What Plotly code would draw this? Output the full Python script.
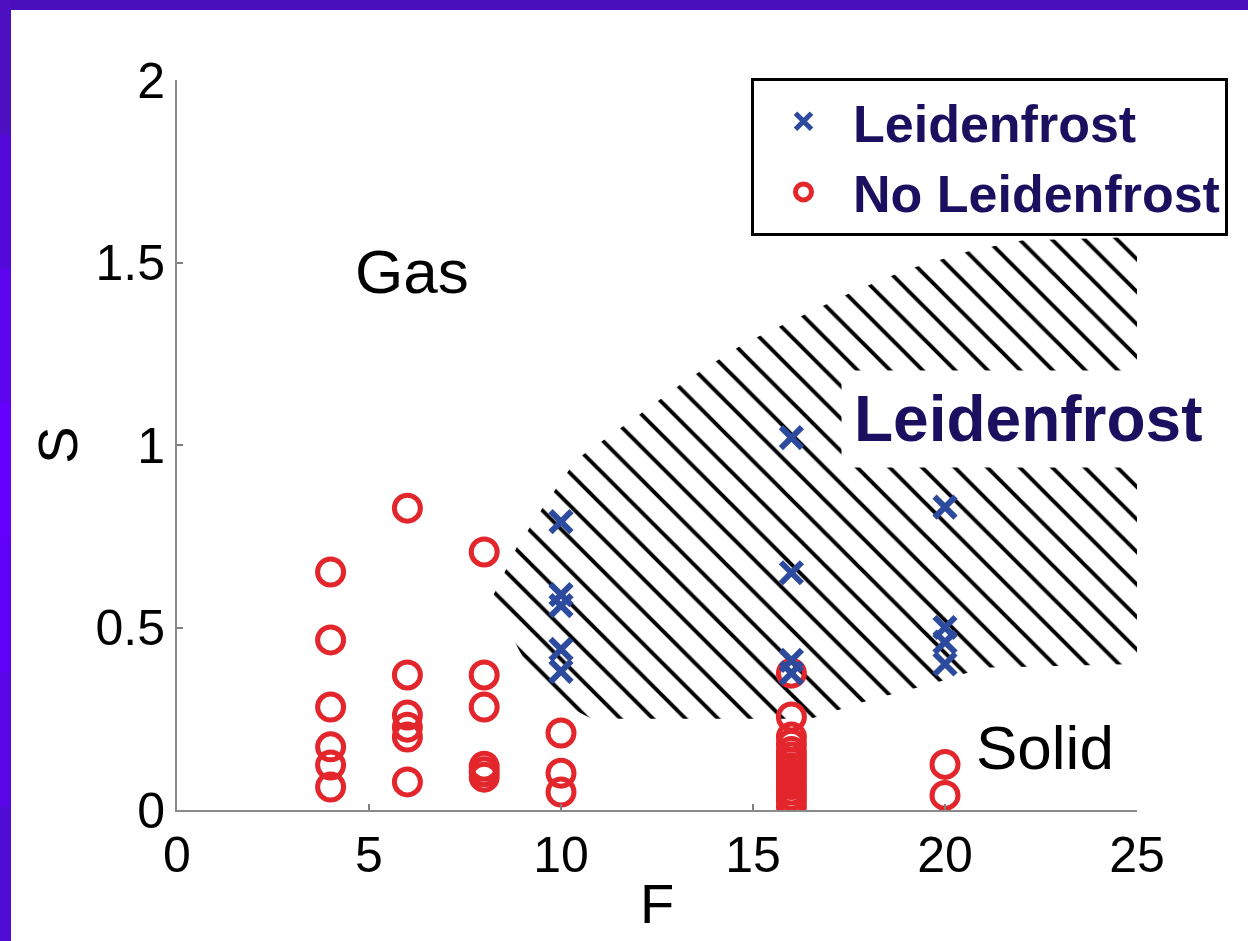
import plotly.graph_objects as go

# ---------------- data ----------------
leid_F = [10, 10, 10, 10, 10, 16, 16, 16, 16, 20, 20, 20, 20]
leid_S = [0.79, 0.59, 0.56, 0.44, 0.38, 1.02, 0.65, 0.41, 0.375, 0.83, 0.50, 0.46, 0.40]

noleid_F = ([4] * 6 + [6] * 6 + [8] * 6 + [10] * 3 + [16] * 15 + [20] * 2)
noleid_S = [0.652, 0.466, 0.282, 0.173, 0.123, 0.063,
            0.827, 0.370, 0.260, 0.227, 0.200, 0.077,
            0.707, 0.370, 0.282, 0.120, 0.105, 0.090,
            0.211, 0.101, 0.049,
            0.375, 0.255, 0.200, 0.180, 0.160, 0.145, 0.130, 0.115, 0.100,
            0.085, 0.070, 0.055, 0.040, 0.025, 0.010,
            0.125, 0.040]

# boundary of the hatched Leidenfrost region
region_F = [8.2, 8.85, 9.6, 10.4, 12.0, 13.3, 14.8, 16.0, 17.6, 19.0, 20.6, 22.0, 25.0,
            25.0, 21.0, 19.8, 18.0, 16.5, 10.8, 9.5, 8.2]
region_S = [0.58, 0.72, 0.84, 0.96, 1.08, 1.18, 1.28, 1.34, 1.42, 1.48, 1.53, 1.56, 1.57,
            0.40, 0.39, 0.35, 0.30, 0.25, 0.25, 0.32, 0.58]

x_ticks = [0, 5, 10, 15, 20, 25]
y_ticks = [0, 0.5, 1, 1.5, 2]
y_ticktext = ["0", "0.5", "1", "1.5", "2"]

# ---------------- layout constants ----------------
W, H = 1248, 941
ML, MR, MT, MB = 177, 111, 80, 131
PW, PH = W - ML - MR, H - MT - MB
FONT = "Arial, Liberation Sans, sans-serif"
NAVY = "#1b1060"
RED = "#e3262c"
BLUE = "#2d4b9e"


def px(xp):
    return (xp - ML) / PW


def py(yp):
    return (H - MB - yp) / PH


fig = go.Figure()

fig.add_trace(go.Scatter(
    x=region_F, y=region_S, mode="lines", fill="toself",
    line=dict(width=0, color="rgba(0,0,0,0)"),
    fillcolor="rgba(0,0,0,0)",
    fillpattern=dict(shape="\\", size=23, solidity=0.17,
                     fgcolor="black", fgopacity=1, bgcolor="rgba(0,0,0,0)",
                     fillmode="overlay"),
    showlegend=False, hoverinfo="skip"))

fig.add_trace(go.Scatter(
    x=noleid_F, y=noleid_S, mode="markers", name="No Leidenfrost",
    legendrank=2,
    marker=dict(symbol="circle-open", size=26, color=RED, line=dict(width=5, color=RED))))

fig.add_trace(go.Scatter(
    x=leid_F, y=leid_S, mode="markers", name="Leidenfrost",
    legendrank=1,
    marker=dict(symbol="x-thin-open", size=21, color=BLUE, line=dict(width=6, color=BLUE))))

shapes = []
# purple frame (top band + left band with gradient)
shapes.append(dict(type="rect", xref="paper", yref="paper",
                   x0=px(0), x1=px(W), y0=py(10), y1=py(0),
                   fillcolor="#4a0fbd", line=dict(width=0), layer="above"))
left_cols = ["#4c10c2", "#5309d8", "#5c05ee", "#6300ff", "#6000fa", "#5806e8", "#500cd4"]
seg = H / len(left_cols)
for i, c in enumerate(left_cols):
    shapes.append(dict(type="rect", xref="paper", yref="paper",
                       x0=px(0), x1=px(11), y0=py((i + 1) * seg + 1), y1=py(i * seg),
                       fillcolor=c, line=dict(width=0), layer="above"))

annotations = [
    dict(x=6.12, y=1.474, xref="x", yref="y", text="Gas", showarrow=False,
         font=dict(family=FONT, size=62, color="black")),
    dict(x=22.6, y=0.17, xref="x", yref="y", text="Solid", showarrow=False,
         font=dict(family=FONT, size=62, color="black")),
    dict(x=22.15, y=1.07, xref="x", yref="y", text="<b>Leidenfrost</b>", showarrow=False,
         font=dict(family=FONT, size=64, color=NAVY),
         bgcolor="white", borderpad=12),
]

fig.update_layout(
    width=W, height=H,
    margin=dict(l=ML, r=MR, t=MT, b=MB),
    paper_bgcolor="white", plot_bgcolor="white",
    font=dict(family=FONT, color="black"),
    shapes=shapes, annotations=annotations,
    legend=dict(x=px(751), y=py(78), xanchor="left", yanchor="top",
                bgcolor="white", bordercolor="black", borderwidth=3,
                itemwidth=89, itemsizing="trace",
                font=dict(family=FONT, size=52, color=NAVY, weight="bold")),
    xaxis=dict(range=[0, 25], tickvals=x_ticks, ticks="inside", ticklen=6,
               tickcolor="#808080", tickwidth=1.5,
               showline=True, linecolor="#8a8a8a", linewidth=2,
               showgrid=False, zeroline=False,
               tickfont=dict(family=FONT, size=50, color="black"),
               title=dict(text="F", font=dict(family=FONT, size=56, color="black"), standoff=2)),
    yaxis=dict(range=[0, 2], tickvals=y_ticks, ticktext=y_ticktext, ticks="inside", ticklen=6,
               tickcolor="#808080", tickwidth=1.5,
               showline=True, linecolor="#8a8a8a", linewidth=2,
               showgrid=False, zeroline=False,
               tickfont=dict(family=FONT, size=50, color="black"),
               title=dict(text="S", font=dict(family=FONT, size=56, color="black"), standoff=0)),
)

fig.write_html("out.html")
